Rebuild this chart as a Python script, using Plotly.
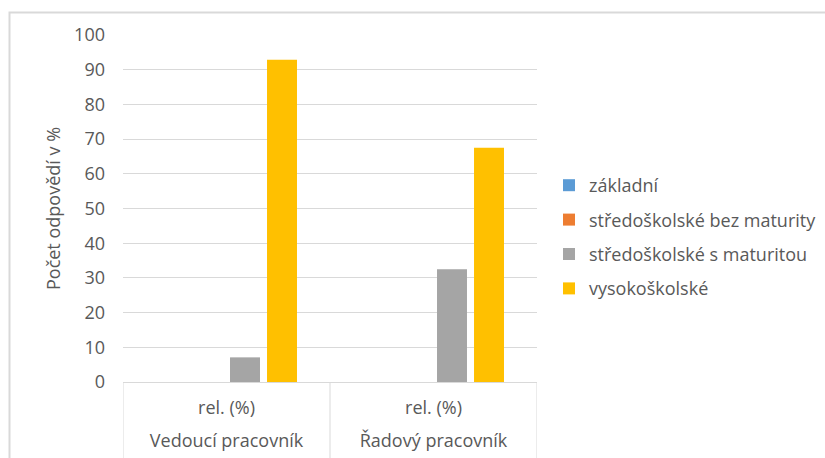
import plotly.graph_objects as go

groups = ["Vedoucí pracovník", "Řadový pracovník"]
sub = ["rel. (%)", "rel. (%)"]
series = ["základní", "středoškolské bez maturity", "středoškolské s maturitou", "vysokoškolské"]
colors = ["#5B9BD5", "#ED7D31", "#A5A5A5", "#FFC000"]
values = [
    [0, 0],
    [0, 0],
    [7.1, 32.5],
    [92.9, 67.5],
]
yticks = list(range(0, 101, 10))

FONT = "Open Sans"
FS = 18
GRAY = "#595959"
LINE = "#D9D9D9"

W, H = 825, 458
L, R, T, B = 123, 288, 35, 76
pw, ph = W - L - R, H - T - B

fig = go.Figure()
for name, col, vals in zip(series, colors, values):
    fig.add_trace(go.Bar(
        x=groups, y=vals, name=name, marker_color=col,
        marker_line_width=0, legendgroup=name,
    ))
# carrier trace for the outer category level axis (invisible)
fig.add_trace(go.Scatter(x=groups, y=[None] * len(groups), xaxis="x2",
                         showlegend=False, hoverinfo="skip", mode="markers"))

def px2x(px):
    return (px - L) / pw

def py2y(py):
    return (H - B - py) / ph

n = len(groups)
dividers = [
    dict(type="line", xref="x", yref="paper", x0=i - 0.5, x1=i - 0.5,
         y0=0, y1=py2y(470), line=dict(color=LINE, width=1))
    for i in range(n + 1)
]

fig.update_layout(
    width=W, height=H,
    margin=dict(l=L, r=R, t=T, b=B, autoexpand=False),
    paper_bgcolor="white", plot_bgcolor="white",
    barmode="group", bargap=0.285, bargroupgap=0.19,
    font=dict(family=FONT, size=FS, color=GRAY),
    showlegend=True,
    legend=dict(
        x=px2x(549), y=py2y(237), xanchor="left", yanchor="middle",
        font=dict(family=FONT, size=FS, color=GRAY),
        traceorder="grouped", tracegroupgap=8,
        bgcolor="rgba(0,0,0,0)",
    ),
    xaxis=dict(
        type="category", categoryarray=groups, range=[-0.5, n - 0.5],
        tickvals=groups, ticktext=sub,
        showgrid=False, zeroline=False,
        showline=True, linecolor=LINE, linewidth=1,
        tickfont=dict(family=FONT, size=FS, color=GRAY),
        ticks="", ticklabelstandoff=9,
    ),
    xaxis2=dict(
        type="category", categoryarray=groups, range=[-0.5, n - 0.5],
        overlaying="x", side="bottom", anchor="y",
        tickvals=groups, ticktext=groups,
        showgrid=False, zeroline=False, showline=False,
        tickfont=dict(family=FONT, size=FS, color=GRAY),
        ticks="", ticklabelstandoff=46,
    ),
    yaxis=dict(
        range=[0, 100], tickvals=yticks, showgrid=True, gridcolor=LINE,
        gridwidth=1, zeroline=False, showline=False,
        tickfont=dict(family=FONT, size=FS, color=GRAY),
        ticks="", ticklabelstandoff=17,
        title=dict(text="Počet odpovědí v %", font=dict(family=FONT, size=FS, color=GRAY), standoff=8),
    ),
    shapes=[
        dict(type="rect", xref="paper", yref="paper",
             x0=px2x(9.5), y0=py2y(470), x1=px2x(840), y1=py2y(12.5),
             line=dict(color=LINE, width=2), fillcolor="rgba(0,0,0,0)", layer="below"),
    ] + dividers,
)

fig.write_html("out.html")
